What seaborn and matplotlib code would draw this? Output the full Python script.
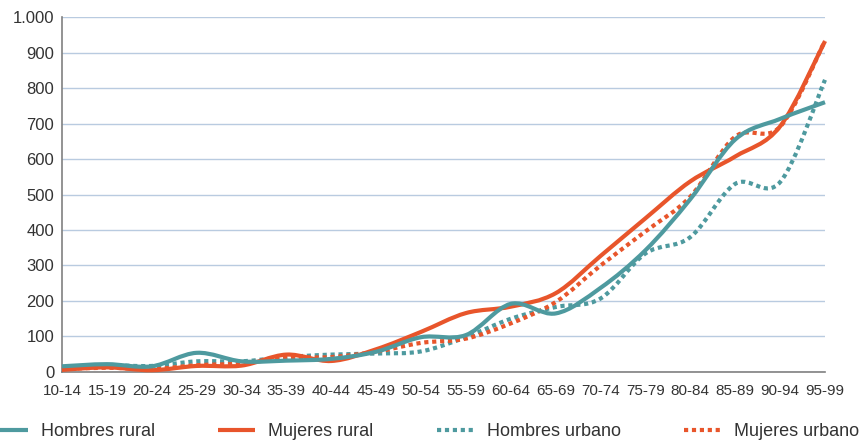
import numpy as np
import pandas as pd
import matplotlib
matplotlib.use("Agg")
import matplotlib.pyplot as plt
import seaborn as sns
from matplotlib.path import Path
from matplotlib.patches import PathPatch
from matplotlib.lines import Line2D
from matplotlib.ticker import FuncFormatter

# ------------------------------------------------------------
# Data
# ------------------------------------------------------------
grupos = ["10-14", "15-19", "20-24", "25-29", "30-34", "35-39", "40-44", "45-49",
          "50-54", "55-59", "60-64", "65-69", "70-74", "75-79", "80-84", "85-89",
          "90-94", "95-99"]

hombres_rural = [16, 22, 16, 54, 30, 32, 37, 57, 98, 104, 192, 165, 237, 343, 487, 655, 713, 760]
mujeres_rural = [6, 13, 5, 17, 18, 49, 31, 64, 113, 166, 184, 222, 327, 433, 537, 607, 692, 932]
hombres_urbano = [13, 19, 17, 30, 30, 42, 49, 52, 58, 98, 150, 183, 207, 334, 380, 530, 535, 823]
mujeres_urbano = [8, 12, 8, 19, 24, 40, 42, 57, 82, 94, 137, 197, 300, 396, 494, 663, 691, 933]

series = ["Hombres rural", "Mujeres rural", "Hombres urbano", "Mujeres urbano"]
valores = [hombres_rural, mujeres_rural, hombres_urbano, mujeres_urbano]

TEAL = "#4e9a9f"
ORANGE = "#e8552b"
colores = {"Hombres rural": TEAL, "Mujeres rural": ORANGE,
           "Hombres urbano": TEAL, "Mujeres urbano": ORANGE}
DOTS = (0, (1.0, 0.9))
estilos = {"Hombres rural": "-", "Mujeres rural": "-",
           "Hombres urbano": DOTS, "Mujeres urbano": DOTS}
orden_z = {"Hombres rural": 6, "Mujeres rural": 4,
           "Hombres urbano": 3, "Mujeres urbano": 5}

df = pd.DataFrame({
    "grupo": grupos * len(series),
    "pos": list(range(len(grupos))) * len(series),
    "valor": sum(valores, []),
    "serie": [s for s in series for _ in grupos],
})

# ------------------------------------------------------------
# Plot
# ------------------------------------------------------------
sns.set_style("white")
plt.rcParams["font.family"] = ["Liberation Sans", "DejaVu Sans"]
plt.rcParams["text.color"] = "#333333"

fig, ax = plt.subplots(figsize=(8.6, 4.42), dpi=100)
fig.subplots_adjust(left=0.0721, right=0.9593, bottom=0.1584, top=0.9615)

sns.lineplot(data=df, x="pos", y="valor", hue="serie", hue_order=series,
             palette=colores, estimator=None, sort=False, legend=False, ax=ax)


def smooth_path(xy):
    # smoothed line (Catmull-Rom bezier, like spreadsheet "smooth lines")
    pts = np.asarray(xy, dtype=float)
    ext = np.vstack([pts[0], pts, pts[-1]])
    verts = [pts[0]]
    codes = [Path.MOVETO]
    for i in range(1, len(ext) - 2):
        p0, p1, p2, p3 = ext[i - 1], ext[i], ext[i + 1], ext[i + 2]
        verts += [p1 + (p2 - p0) / 6.0, p2 - (p3 - p1) / 6.0, p2]
        codes += [Path.CURVE4] * 3
    return Path(verts, codes)


LW = 3.0
for line, name in zip(list(ax.lines), series):
    line.set_visible(False)
    patch = PathPatch(smooth_path(line.get_xydata()), facecolor="none",
                      edgecolor=colores[name], linewidth=LW,
                      linestyle=estilos[name], capstyle="butt",
                      joinstyle="round", zorder=orden_z[name], clip_on=False)
    ax.add_patch(patch)

ax.set_xlim(0, len(grupos) - 1)
ax.set_ylim(0, 1000)
ax.set_xticks(range(len(grupos)))
ax.set_xticklabels(grupos)
ax.set_yticks(range(0, 1001, 100))
ax.yaxis.set_major_formatter(FuncFormatter(lambda v, p: f"{int(v):,}".replace(",", ".")))
ax.set_xlabel("")
ax.set_ylabel("")

ax.yaxis.grid(True, color="#b9cbe0", linewidth=1.0)
ax.xaxis.grid(False)
ax.set_axisbelow(True)

for side in ["top", "right"]:
    ax.spines[side].set_visible(False)
for side in ["left", "bottom"]:
    ax.spines[side].set_color("#808080")
    ax.spines[side].set_linewidth(1.2)

ax.tick_params(axis="x", direction="in", length=6, width=1.0, color="#808080",
               pad=9, labelsize=11, labelcolor="#333333")
ax.tick_params(axis="y", length=0, pad=5.5, labelsize=12, labelcolor="#333333")

handles = [Line2D([], [], color=colores[s], linewidth=LW, linestyle=estilos[s],
                  solid_capstyle="butt", dash_capstyle="butt") for s in series]
fig.legend(handles, series, loc="center", bbox_to_anchor=(0.494, 0.024), ncol=4,
           frameon=False, fontsize=13, handlelength=2.05, handletextpad=0.72,
           columnspacing=3.5)

plt.savefig("out.png", dpi=100)
